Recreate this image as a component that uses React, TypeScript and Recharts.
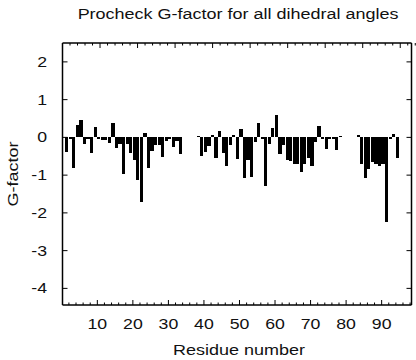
import { ComposedChart, Bar, XAxis, YAxis } from "recharts"

// Procheck G-factor per residue (null = no value)
const residues = [
  1, 2, 3, 4, 5, 6, 7, 8, 9, 10, 11, 12, 13, 14, 15, 16, 17, 18, 19, 20,
  21, 22, 23, 24, 25, 26, 27, 28, 29, 30, 31, 32, 33, 34, 35, 36, 37, 38, 39, 40,
  41, 42, 43, 44, 45, 46, 47, 48, 49, 50, 51, 52, 53, 54, 55, 56, 57, 58, 59, 60,
  61, 62, 63, 64, 65, 66, 67, 68, 69, 70, 71, 72, 73, 74, 75, 76, 77, 78, 79, 80,
  81, 82, 83, 84, 85, 86, 87, 88, 89, 90, 91, 92, 93, 94,
]
const gFactor = [
  -0.38, -0.05, -0.81, 0.33, 0.46, -0.18, -0.03, -0.41, 0.28, -0.05,
  -0.06, -0.06, -0.14, 0.37, -0.28, -0.17, -0.98, -0.17, -0.42, -0.6,
  -1.13, -1.7, 0.12, -0.82, -0.36, -0.2, -0.2, -0.52, -0.1, -0.05,
  -0.25, -0.1, -0.45, null, null, null, null, 0.03, -0.5, -0.38,
  -0.22, 0.07, -0.55, 0.18, -0.42, -0.77, -0.2, 0.06, -0.56, 0.22,
  -1.07, -0.6, -1.05, -0.12, 0.38, -0.03, -1.3, -0.18, 0.25, 0.58,
  -0.45, -0.2, -0.6, -0.62, -0.7, -0.7, -0.92, -0.7, -0.55, -0.77,
  -0.12, 0.3, -0.05, -0.3, -0.03, -0.03, -0.33, 0.03, null, null,
  null, null, 0.07, -0.7, -1.08, -0.85, -0.65, -0.7, -0.75, -0.7,
  -2.25, -0.05, 0.1, -0.55,
]

const xMinorTicks = [
  2, 4, 6, 8, 10, 12, 14, 16, 18, 20, 22, 24, 26, 28, 30, 32, 34, 36, 38, 40,
  42, 44, 46, 48, 50, 52, 54, 56, 58, 60, 62, 64, 66, 68, 70, 72, 74, 76, 78, 80,
  82, 84, 86, 88, 90, 92, 94, 96, 98,
]
const xLabels = [10, 20, 30, 40, 50, 60, 70, 80, 90]
const yTicks = [-4, -3, -2, -1, 0, 1, 2]

const data = residues.map((residue, i) => ({ residue, g: gFactor[i] }))

const FONT = "'Liberation Sans', Arial, Helvetica, sans-serif"
const STRETCH = 1.18
const INK = "#111"

function BottomTick({ x, y, payload }: any) {
  const v = payload.value
  const major = xLabels.includes(v)
  return (
    <g>
      <line x1={x} x2={x} y1={y} y2={y - (major ? 5 : 2.5)} stroke="#000" />
      {major && (
        <text
          transform={`translate(${x},${y + 24}) scale(${STRETCH},1)`}
          textAnchor="middle"
          fontSize={15}
          fontFamily={FONT}
          fill={INK}
        >
          {v}
        </text>
      )}
    </g>
  )
}

function TopTick({ x, y, payload }: any) {
  const major = xLabels.includes(payload.value)
  return <line x1={x} x2={x} y1={y} y2={y + (major ? 5 : 2.5)} stroke="#000" />
}

function LeftTick({ x, y, payload }: any) {
  return (
    <g>
      <line x1={x} x2={x + 5} y1={y} y2={y} stroke="#000" />
      <text
        transform={`translate(${x - 15.5},${y + 5}) scale(${STRETCH},1)`}
        textAnchor="end"
        fontSize={15}
        fontFamily={FONT}
        fill={INK}
      >
        {payload.value}
      </text>
    </g>
  )
}

function RightTick({ x, y }: any) {
  return <line x1={x} x2={x - 5} y1={y} y2={y} stroke="#000" />
}

// each residue fills the interval [i, i+1]; edges snapped so neighbours touch
function ResidueBar(props: any) {
  const { x, y, width, height } = props
  if (height == null || width == null) return <g />
  const left = Math.round(x + width / 2)
  const right = Math.round(x + width / 2 + width)
  let top = Math.round(Math.min(y, y + height))
  let bottom = Math.round(Math.max(y, y + height))
  if (bottom - top < 1) bottom = top + 1
  return (
    <rect
      x={left}
      y={top}
      width={right - left}
      height={bottom - top}
      fill="#000"
      shapeRendering="crispEdges"
    />
  )
}

const X_DOMAIN: [number, number] = [0.2, 98.4]
const Y_DOMAIN: [number, number] = [-4.44, 2.5]

export default function App() {
  return (
    <div style={{ position: "absolute", left: 0, top: 0, width: 416, height: 360, background: "#fff" }}>
      <ComposedChart
        width={416}
        height={360}
        data={data}
        margin={{ top: 42, right: 3.5, bottom: 54, left: 61.5 }}
        barCategoryGap={0}
        barGap={0}
      >
        <XAxis
          xAxisId="b"
          dataKey="residue"
          type="number"
          domain={X_DOMAIN}
          allowDataOverflow
          ticks={xMinorTicks}
          interval={0}
          height={1}
          tickSize={0}
          tickMargin={0}
          tickLine={false}
          tick={<BottomTick />}
          axisLine={{ stroke: "#000", strokeWidth: 1.5 }}
        />
        <XAxis
          xAxisId="t"
          orientation="top"
          type="number"
          domain={X_DOMAIN}
          allowDataOverflow
          ticks={xMinorTicks}
          interval={0}
          height={1}
          tickSize={0}
          tickMargin={0}
          tickLine={false}
          tick={<TopTick />}
          axisLine={{ stroke: "#000", strokeWidth: 1.5 }}
        />
        <YAxis
          yAxisId="l"
          type="number"
          domain={Y_DOMAIN}
          allowDataOverflow
          ticks={yTicks}
          interval={0}
          width={1}
          tickSize={0}
          tickMargin={0}
          tickLine={false}
          tick={<LeftTick />}
          axisLine={{ stroke: "#000", strokeWidth: 1.5 }}
        />
        <YAxis
          yAxisId="r"
          orientation="right"
          type="number"
          domain={Y_DOMAIN}
          allowDataOverflow
          ticks={yTicks}
          interval={0}
          width={1}
          tickSize={0}
          tickMargin={0}
          tickLine={false}
          tick={<RightTick />}
          axisLine={{ stroke: "#000", strokeWidth: 1.5 }}
        />
        <Bar
          xAxisId="b"
          yAxisId="l"
          dataKey="g"
          fill="#000"
          barSize={3.555}
          shape={<ResidueBar />}
          isAnimationActive={false}
        />
      </ComposedChart>
      <svg
        width={416}
        height={360}
        style={{ position: "absolute", left: 0, top: 0, pointerEvents: "none" }}
      >
        <text
          transform={`translate(238,19) scale(1.2,1)`}
          textAnchor="middle"
          fontSize={15}
          fontFamily={FONT}
          fill={INK}
        >
          Procheck G-factor for all dihedral angles
        </text>
        <text
          transform={`translate(239,355) scale(1.2,1)`}
          textAnchor="middle"
          fontSize={15}
          fontFamily={FONT}
          fill={INK}
        >
          Residue number
        </text>
        <text
          transform={`translate(18,174) rotate(-90) scale(1.2,1)`}
          textAnchor="middle"
          fontSize={15}
          fontFamily={FONT}
          fill={INK}
        >
          G-factor
        </text>
      </svg>
    </div>
  )
}
